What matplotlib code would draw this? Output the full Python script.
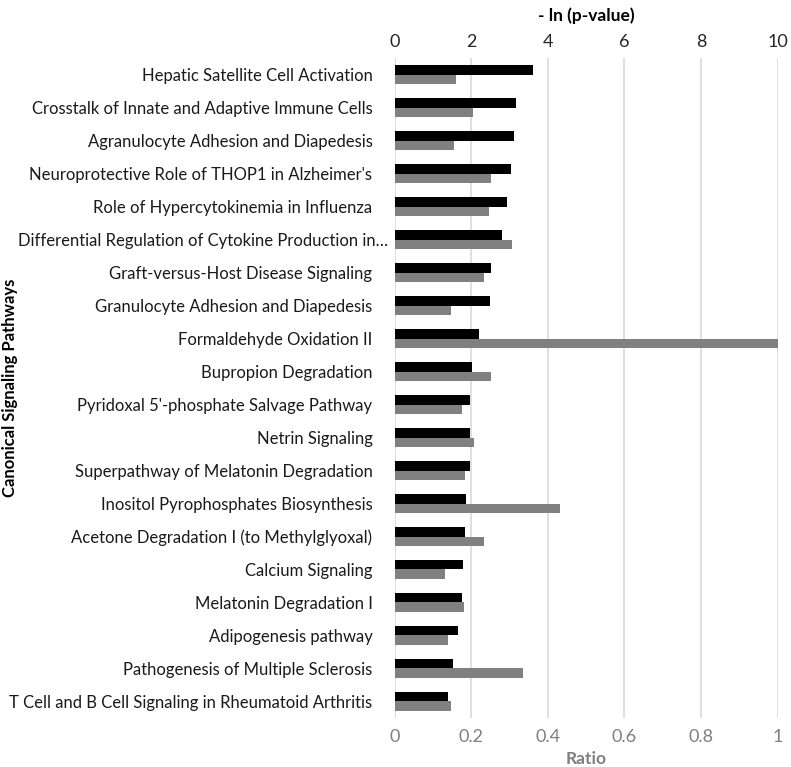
import matplotlib
matplotlib.use("Agg")
import matplotlib.pyplot as plt
import numpy as np

plt.rcParams['font.family'] = ['Lato', 'DejaVu Sans']

pathways = [
    "Hepatic Satellite Cell Activation",
    "Crosstalk of Innate and Adaptive Immune Cells",
    "Agranulocyte Adhesion and Diapedesis",
    "Neuroprotective Role of THOP1 in Alzheimer's",
    "Role of Hypercytokinemia in Influenza",
    "Differential Regulation of Cytokine Production in\u2026",
    "Graft-versus-Host Disease Signaling",
    "Granulocyte Adhesion and Diapedesis",
    "Formaldehyde Oxidation II",
    "Bupropion Degradation",
    "Pyridoxal 5'-phosphate Salvage Pathway",
    "Netrin Signaling",
    "Superpathway of Melatonin Degradation",
    "Inositol Pyrophosphates Biosynthesis",
    "Acetone Degradation I (to Methylglyoxal)",
    "Calcium Signaling",
    "Melatonin Degradation I",
    "Adipogenesis pathway",
    "Pathogenesis of Multiple Sclerosis",
    "T Cell and B Cell Signaling in Rheumatoid Arthritis",
]
neg_ln_p = [3.60, 3.18, 3.12, 3.03, 2.94, 2.80, 2.51, 2.49, 2.21, 2.01,
            1.96, 1.96, 1.96, 1.87, 1.83, 1.79, 1.77, 1.66, 1.53, 1.40]
ratio = [0.161, 0.205, 0.155, 0.252, 0.247, 0.307, 0.233, 0.147, 1.0, 0.252,
         0.176, 0.206, 0.183, 0.431, 0.233, 0.132, 0.182, 0.139, 0.336, 0.147]

top_ticks = [0, 2, 4, 6, 8, 10]
bottom_ticks = [0, 0.2, 0.4, 0.6, 0.8, 1]
bottom_labels = ["0", "0.2", "0.4", "0.6", "0.8", "1"]

fig = plt.figure(figsize=(7.91, 7.67), dpi=100)
ax = fig.add_axes([0.499, 0.064, 0.484, 0.860])
ax2 = ax.twiny()

y = np.arange(len(pathways))
h = 0.285
ax.barh(y + h / 2, ratio, height=h, color='#808080', zorder=3)
ax2.barh(y - h / 2, neg_ln_p, height=h, color='#000000', zorder=3)

ax.set_xlim(0, 1)
ax2.set_xlim(0, 10)
ax.set_ylim(len(pathways) - 0.5, -0.5)
ax2.set_ylim(len(pathways) - 0.5, -0.5)

ax.set_xticks(bottom_ticks)
ax.set_xticklabels(bottom_labels)
ax2.set_xticks(top_ticks)
ax.set_yticks(y)
ax.set_yticklabels(pathways, fontsize=12, color='#1a1a1a')

ax.xaxis.grid(True, color='#d9d9d9', linewidth=1.2, zorder=0)
ax.set_axisbelow(True)
for a in (ax, ax2):
    for s in a.spines.values():
        s.set_visible(False)
    a.tick_params(length=0)

ax.tick_params(axis='x', labelsize=13, labelcolor='#7f7f7f', pad=8)
ax2.tick_params(axis='x', labelsize=13, labelcolor='#262626', pad=6)
ax.tick_params(axis='y', pad=16)
# the truncated label has no trailing gap in the reference
ax.yaxis.get_major_ticks()[5].set_pad(5)

ax.set_xlabel("Ratio", fontsize=12.5, fontweight='bold', color='#7f7f7f', labelpad=4)
ax2.set_xlabel("- ln (p-value)", fontsize=12.5, fontweight='bold', color='#000000', labelpad=9)
fig.text(0.013, 0.494, "Canonical Signaling Pathways", rotation=90, fontsize=12,
         fontweight='bold', va='center', ha='center', color='#000000')

fig.savefig("out.png", dpi=100)
